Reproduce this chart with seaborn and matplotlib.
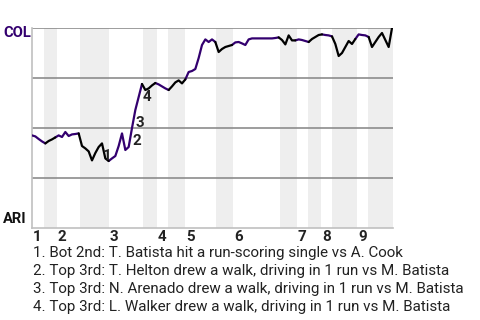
import bisect
import matplotlib
matplotlib.use("Agg")
import matplotlib.pyplot as plt
import pandas as pd
import seaborn as sns

# COL win probability (%) after each event
col_wp = [46.3, 45.8, 44.5, 43.3, 42.3, 43.5, 44.3, 45.3, 46.3, 45.5,
          48.0, 46.0, 46.8, 47.0, 47.3, 41.0, 39.8, 38.3, 33.8, 37.5,
          40.5, 42.3, 34.8, 33.5, 34.8, 36.0, 41.0, 47.3, 39.0, 40.5,
          50.0, 59.0, 65.5, 72.0, 69.0, 69.8, 71.3, 72.5, 71.8, 70.8,
          69.8, 69.0, 70.8, 72.8, 73.8, 72.3, 74.3, 78.0, 78.5, 79.5,
          85.0, 91.5, 94.3, 93.0, 94.3, 93.0, 88.0, 89.5, 90.5, 91.0,
          91.5, 92.8, 93.0, 92.3, 91.5, 94.3, 94.8, 94.8, 94.8, 94.8,
          94.8, 94.8, 94.8, 95.0, 95.3, 94.0, 91.8, 96.3, 93.8, 93.8,
          94.3, 94.0, 93.5, 93.0, 94.5, 95.5, 96.5, 96.8, 96.5, 96.3,
          95.8, 92.0, 86.0, 87.5, 90.5, 93.5, 92.0, 94.5, 96.8, 96.5,
          96.3, 95.5, 90.5, 93.0, 95.5, 97.5, 94.0, 90.5, 100.0]
events = list(range(len(col_wp)))

# half-inning boundaries (event units); even halves = top (COL bats)
half_edges = [0, 3.6, 7.5, 14.4, 23.1, 33.4, 37.5, 40.8, 45.9, 55.2, 60.3,
              74.4, 79.5, 82.8, 86.7, 90.0, 97.5, 100.8, 108.3]
inning_labels = ["1", "2", "3", "4", "5", "6", "7", "8", "9"]

mark_events = [21, 30, 31, 33]
mark_labels = ["1", "2", "3", "4"]
mark_texts = [
    "1. Bot 2nd: T. Batista hit a run-scoring single vs A. Cook",
    "2. Top 3rd: T. Helton drew a walk, driving in 1 run vs M. Batista",
    "3. Top 3rd: N. Arenado drew a walk, driving in 1 run vs M. Batista",
    "4. Top 3rd: L. Walker drew a walk, driving in 1 run vs M. Batista",
]

teams = ["COL", "ARI"]
team_colors = {"COL": "#33006F", "ARI": "#000000"}

# build runs of same batting team
rows = []
run_id = 0
prev_team = None
for i in range(1, len(events)):
    mid = (events[i - 1] + events[i]) / 2
    h = bisect.bisect_right(half_edges, mid) - 1
    team = teams[h % 2]
    if team != prev_team:
        run_id += 1
        rows.append({"event": events[i - 1], "wp": col_wp[i - 1], "team": team, "run": run_id})
        prev_team = team
    rows.append({"event": events[i], "wp": col_wp[i], "team": team, "run": run_id})
df = pd.DataFrame(rows)

sns.set_style("white")
plt.rcParams["font.family"] = ["Roboto", "DejaVu Sans"]

fig = plt.figure(figsize=(4.8, 3.2), dpi=100)
ax = fig.add_axes([32 / 480, 92 / 320, 361 / 480, 200 / 320])

for k in range(1, len(half_edges) - 1, 2):
    ax.axvspan(half_edges[k], half_edges[k + 1], color="#eeeeee", lw=0, zorder=0)

for yv in [25, 50, 75, 100]:
    ax.axhline(yv, color="#8c8c8c", lw=1.2, zorder=1)

sns.lineplot(data=df, x="event", y="wp", hue="team", units="run", estimator=None,
             palette=team_colors, legend=False, lw=1.6, ax=ax, zorder=3,
             solid_joinstyle="round")

ax.set_xlim(half_edges[0], half_edges[-1])
ax.set_ylim(0, 100)
ax.set_xticks([])
ax.set_yticks([])
ax.set_xlabel("")
ax.set_ylabel("")
for s in ["top", "right"]:
    ax.spines[s].set_visible(False)
for s in ["left", "bottom"]:
    ax.spines[s].set_color("#c0c0c0")
    ax.spines[s].set_linewidth(1.2)

fs = 10.9
for lab, idx in zip(mark_labels, mark_events):
    ax.annotate(lab, xy=(events[idx], col_wp[idx]), xytext=(5, -13), textcoords="offset pixels",
                ha="center", va="center", fontsize=fs, fontweight="bold", color="#222222", zorder=4)

tops = [half_edges[k] for k in range(0, len(half_edges) - 1, 2)]
for lab, x0 in zip(inning_labels, tops):
    ax.annotate(lab, xy=(x0, 0), xycoords=("data", "axes fraction"), xytext=(1, -9),
                textcoords="offset pixels", ha="left", va="center", fontsize=fs,
                fontweight="bold", color="#222222", annotation_clip=False)

fig.text(3 / 480, 1 - 33 / 320, "COL", ha="left", va="center", fontsize=10.6,
         fontweight="bold", color=team_colors["COL"])
fig.text(3 / 480, 1 - 219 / 320, "ARI", ha="left", va="center", fontsize=10.6,
         fontweight="bold", color="#111111")

for j, t in enumerate(mark_texts):
    fig.text(33 / 480, 1 - (253 + 18 * j) / 320, t, ha="left", va="center",
             fontsize=fs, color="#222222")

fig.savefig("out.png", dpi=100)
